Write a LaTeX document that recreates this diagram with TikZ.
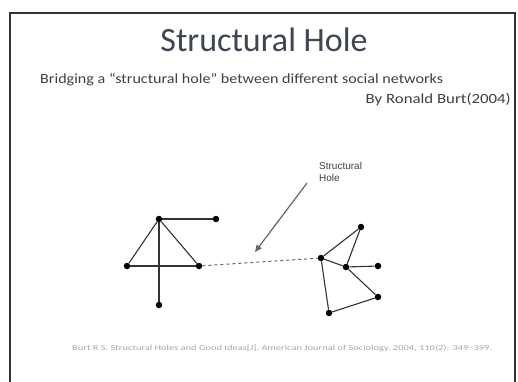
\documentclass[tikz,border=0pt]{standalone}
\usepackage{graphicx}
\usepackage{fontspec}
\setmainfont{Carlito}
\newfontfamily\arialfont{Liberation Sans}
\usetikzlibrary{arrows.meta}
\definecolor{titlegray}{RGB}{62,70,84}
\begin{document}
\begin{tikzpicture}[x=1pt, y=-1pt,
  dot/.style={circle, fill=black, inner sep=0pt, minimum size=6.5pt},
  link/.style={draw=black!80, line width=1.1pt},
  txt/.style={inner sep=0pt, text=black!75}
]
\useasboundingbox (0,0) rectangle (518,381);
\fill[white] (0,0) rectangle (518,381);
\draw[black!80, line width=1.6pt] (10,390) -- (10,13) -- (515,13) -- (515,390);

\node[txt, font=\fontsize{34}{38}\selectfont, text=titlegray] (title) at (264,40) {Structural Hole};
\node[txt, font=\fontsize{14}{16}\selectfont, anchor=west] (sub) at (40,80) {\scalebox{1.15}[1]{Bridging a ``structural hole'' between different social networks}};
\node[txt, font=\fontsize{14}{16}\selectfont, anchor=east] (author) at (511,100) {\scalebox{1.2}[1]{By Ronald Burt(2004)}};

\node[dot] (a) at (159,219) {};
\node[dot] (b) at (216,219) {};
\node[dot] (c) at (127,266) {};
\node[dot] (d) at (199,266) {};
\node[dot] (e) at (159,305) {};

\node[dot] (f) at (321,258) {};
\node[dot] (g) at (361,227) {};
\node[dot] (h) at (346,267) {};
\node[dot] (i) at (378,266) {};
\node[dot] (j) at (378,297) {};
\node[dot] (k) at (329,313) {};

\draw[link] (a) -- (b);
\draw[link] (a) -- (c);
\draw[link] (a) -- (d);
\draw[link] (a) -- (e);
\draw[link] (c) -- (d);
\draw[link] (f) -- (g);
\draw[link] (g) -- (h);
\draw[link] (f) -- (h);
\draw[link] (h) -- (i);
\draw[link] (h) -- (j);
\draw[link] (j) -- (k);
\draw[link] (f) -- (k);
\draw[black!60, line width=1pt, dashed] (d) -- (f);

\node[txt, font=\arialfont\fontsize{10}{12}\selectfont, align=left, anchor=north west] (hole) at (319,162) {Structural\\Hole};
\coordinate (tip) at (255,252);
\draw[black!60, line width=1.2pt, -{Triangle[length=7pt, width=6pt]}] (307,183) -- (tip);

\node[txt, font=\fontsize{7}{8}\selectfont, text=black!35, anchor=west] (ref) at (72,348) {\resizebox{420pt}{5.5pt}{Burt R S. Structural Holes and Good Ideas[J]. American Journal of Sociology, 2004, 110(2): 349--399.}};
\end{tikzpicture}
\end{document}
